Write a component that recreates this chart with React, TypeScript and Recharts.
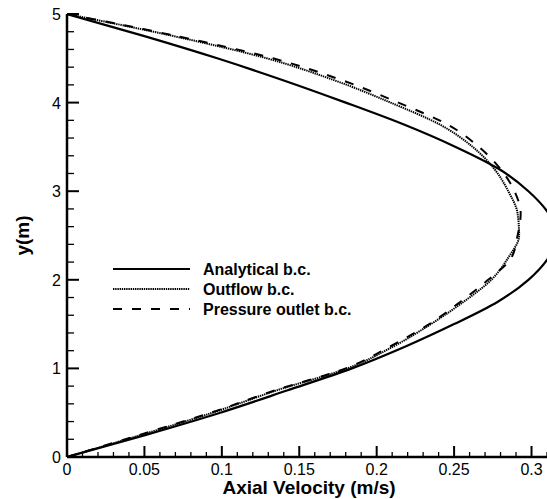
import React from 'react';
import { LineChart, Line, XAxis, YAxis, Legend } from 'recharts';

// Wall-normal stations across the channel (m)
const heights = [0, 0.25, 0.5, 0.75, 1.0, 1.25, 1.5, 1.75, 2.0, 2.25, 2.5, 2.75, 3.0, 3.25, 3.5, 3.75, 4.0, 4.25, 4.5, 4.75, 5.0];

// Axial velocity (m/s) at each station for the three outlet boundary conditions
const analytical = [0, 0.051, 0.099, 0.142, 0.184, 0.219, 0.25, 0.278, 0.298, 0.311, 0.317, 0.311, 0.298, 0.279, 0.251, 0.218, 0.18, 0.14, 0.097, 0.05, 0];
const outflow = [0, 0.048, 0.094, 0.135, 0.181, 0.211, 0.235, 0.256, 0.274, 0.285, 0.292, 0.291, 0.285, 0.276, 0.262, 0.241, 0.209, 0.173, 0.129, 0.069, 0];
const pressureOutlet = [0, 0.047, 0.093, 0.134, 0.18, 0.209, 0.234, 0.254, 0.272, 0.287, 0.291, 0.293, 0.289, 0.28, 0.266, 0.246, 0.214, 0.178, 0.133, 0.071, 0];

// Axis ticks: labelled majors, unlabelled minors in between
const xMajorTicks = [0, 0.05, 0.1, 0.15, 0.2, 0.25, 0.3];
const yMajorTicks = [0, 1, 2, 3, 4, 5];
const xAllTicks = Array.from({ length: 32 }, (_, i) => i / 100);
const yAllTicks = Array.from({ length: 26 }, (_, i) => Math.round(i * 2) / 10);

const rows = heights.map((y, i) => ({
  y,
  analytical: analytical[i],
  outflow: outflow[i],
  pressureOutlet: pressureOutlet[i],
}));

const FONT = '"Liberation Sans", Arial, Helvetica, sans-serif';

const series = [
  { key: 'analytical', name: 'Analytical b.c.', width: 2.2, dash: undefined as string | undefined },
  { key: 'outflow', name: 'Outflow b.c.', width: 2, dash: '1.4 0.8' },
  { key: 'pressureOutlet', name: 'Pressure outlet b.c.', width: 2, dash: '9 10' },
];

const isMajor = (v: number, list: number[]) => list.some((m) => Math.abs(m - v) < 1e-6);

const XTick = (props: any) => {
  const { x, y, payload } = props;
  const v = payload.value as number;
  const major = isMajor(v, xMajorTicks);
  return (
    <g>
      <line x1={x} x2={x} y1={y} y2={y - (major ? 11 : 5)} stroke="#000" strokeWidth={major ? 2 : 1.3} />
      {major && (
        <text x={x} y={y + 18} textAnchor="middle" fontSize={16} fontFamily={FONT} fill="#000">
          {String(Math.round(v * 100) / 100)}
        </text>
      )}
    </g>
  );
};

const YTick = (props: any) => {
  const { x, y, payload } = props;
  const v = payload.value as number;
  const major = isMajor(v, yMajorTicks);
  return (
    <g>
      <line x1={x} x2={x + (major ? 12 : 7)} y1={y} y2={y} stroke="#000" strokeWidth={major ? 2 : 1.3} />
      {major && (
        <text x={x - 6} y={y + 6} textAnchor="end" fontSize={16} fontFamily={FONT} fill="#000">
          {String(v)}
        </text>
      )}
    </g>
  );
};

const LegendBox = () => (
  <svg width={270} height={66} style={{ display: 'block', overflow: 'visible' }}>
    {series.map((s, i) => {
      const cy = 13 + i * 20;
      return (
        <g key={s.key}>
          <line x1={8} x2={85} y1={cy} y2={cy} stroke="#000" strokeWidth={s.width} strokeDasharray={s.dash} />
          <text x={98} y={cy + 6} fontSize={16} fontWeight="bold" fontFamily={FONT} fill="#000">
            {s.name}
          </text>
        </g>
      );
    })}
  </svg>
);

export default function App() {
  return (
    <div style={{ position: 'absolute', left: 0, top: 0, width: 547, height: 499, background: '#fff' }}>
      <LineChart
        width={547}
        height={499}
        layout="vertical"
        data={rows}
        margin={{ top: 14, right: 0, bottom: 0, left: 0 }}
      >
        <XAxis
          type="number"
          domain={[0, 0.31]}
          allowDataOverflow
          ticks={xAllTicks}
          interval={0}
          tickSize={0}
          tickMargin={0}
          tickLine={false}
          tick={<XTick />}
          height={42}
          axisLine={{ stroke: '#000', strokeWidth: 2.5 }}
          label={{
            content: (p: any) => {
              const vb = p.viewBox || { x: 67, y: 457, width: 480 };
              return (
                <text
                  x={vb.x + vb.width / 2 + 2}
                  y={vb.y + 37}
                  textAnchor="middle"
                  fontSize={19}
                  fontWeight="bold"
                  fontFamily={FONT}
                  fill="#000"
                >
                  Axial Velocity (m/s)
                </text>
              );
            },
          }}
        />
        <YAxis
          type="number"
          dataKey="y"
          domain={[0, 5]}
          reversed
          ticks={yAllTicks}
          interval={0}
          tickSize={0}
          tickMargin={0}
          tickLine={false}
          tick={<YTick />}
          width={67}
          axisLine={{ stroke: '#000', strokeWidth: 2.5 }}
          label={{
            content: (p: any) => {
              const vb = p.viewBox || { x: 0, y: 14, width: 67, height: 443 };
              const cx = 29;
              const cy = vb.y + vb.height / 2;
              return (
                <text
                  x={cx}
                  y={cy}
                  transform={`rotate(-90 ${cx} ${cy})`}
                  textAnchor="middle"
                  fontSize={19}
                  fontWeight="bold"
                  fontFamily={FONT}
                  fill="#000"
                >
                  y(m)
                </text>
              );
            },
          }}
        />
        {series.map((s) => (
          <Line
            key={s.key}
            dataKey={s.key}
            name={s.name}
            type="monotone"
            stroke="#000"
            strokeWidth={s.width}
            strokeDasharray={s.dash}
            dot={false}
            activeDot={false}
            isAnimationActive={false}
          />
        ))}
        <Legend
          layout="horizontal"
          verticalAlign="middle"
          align="center"
          content={() => <LegendBox />}
          wrapperStyle={{ position: 'absolute', left: 105, top: 256, width: 270, height: 66 }}
        />
      </LineChart>
    </div>
  );
}
